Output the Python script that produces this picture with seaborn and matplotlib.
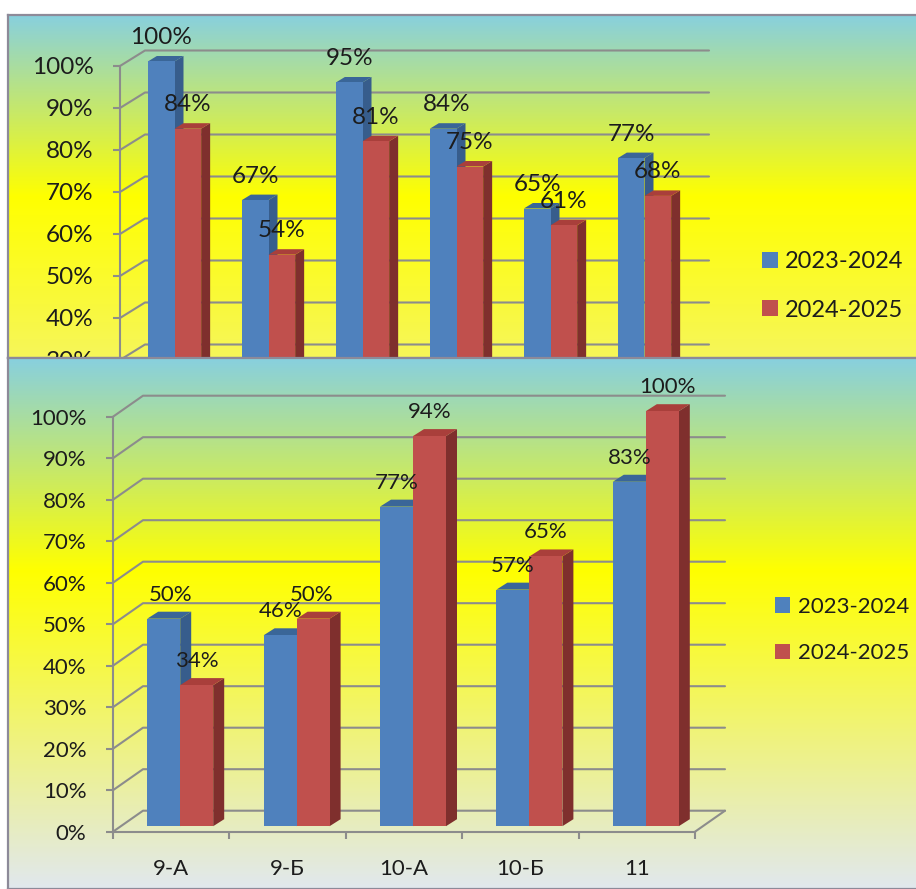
import numpy as np
import pandas as pd
import matplotlib
matplotlib.use("Agg")
import matplotlib.pyplot as plt
from matplotlib.colors import LinearSegmentedColormap
from matplotlib.patches import Polygon
import seaborn as sns

sns.set_theme(style="white")
plt.rcParams["font.family"] = ["Lato", "Open Sans", "DejaVu Sans"]

W, H = 916, 889

years = ["2023-2024", "2024-2025"]

top_groups = ["1", "2", "3", "4", "5", "6"]
top_first = [100, 67, 95, 84, 65, 77]
top_second = [84, 54, 81, 75, 61, 68]

bottom_groups = ["9-А", "9-Б", "10-А", "10-Б", "11"]
bottom_first = [50, 46, 77, 57, 83]
bottom_second = [34, 50, 94, 65, 100]

y_ticks = [0, 10, 20, 30, 40, 50, 60, 70, 80, 90, 100]

GRID = "#8c8c8c"
TEXT = "#1c1c1c"
FRONT = ["#4f81bd", "#c0504d"]
SIDE = ["#375d8c", "#7f2f2d"]
ROOF = ["#3a6698", "#a93f3b"]


def px_axes(fig, x0, y0, x1, y1, zorder):
    ax = fig.add_axes([x0 / W, 1 - y1 / H, (x1 - x0) / W, (y1 - y0) / H])
    ax.set_zorder(zorder)
    return ax


def panel(fig, y0, y1, stops, zorder):
    ax = px_axes(fig, 8, y0, W + 4, y1, zorder)
    cmap = LinearSegmentedColormap.from_list("bg", stops)
    ax.imshow(np.linspace(0, 1, 256).reshape(-1, 1), cmap=cmap, aspect="auto", vmin=0, vmax=1)
    ax.set_xticks([])
    ax.set_yticks([])
    ax.grid(False)
    for name, spine in ax.spines.items():
        spine.set_color("#8d8a99")
        spine.set_linewidth(1.6)
    return ax


def chart(ax, groups, first, second, wall, bar, shift, fontsize, label_fix):
    df = pd.DataFrame({
        "group": groups * 2,
        "year": [years[0]] * len(groups) + [years[1]] * len(groups),
        "value": first + second,
    })
    sns.barplot(data=df, x="group", y="value", hue="year", palette=FRONT,
                hue_order=years, width=0.567, gap=0, saturation=1,
                edgecolor="none", linewidth=0, ax=ax)

    bbox = ax.get_position()
    px_w = bbox.width * W
    px_h = bbox.height * H
    n = len(groups)
    sx = n / px_w
    sy = 100 / px_h

    ax.set_xlim(-0.5, n - 0.5)
    ax.set_ylim(0, 100)
    ax.patch.set_alpha(0)
    ax.set_xlabel("")
    ax.set_ylabel("")

    # walls and floor of the fake 3d box
    wx, wy = wall[0] * sx, wall[1] * sy
    for v in y_ticks:
        ax.plot([-0.5, -0.5 + wx, n - 0.5 + wx], [v, v + wy, v + wy],
                color=GRID, lw=1.5, clip_on=False, zorder=1)
    ax.plot([n - 0.5, n - 0.5 + wx], [0, wy], color=GRID, lw=1.5, clip_on=False, zorder=1)

    # extrude the bars
    ox, oy = shift[0] * sx, shift[1] * sy
    dx, dy = bar[0] * sx, bar[1] * sy
    for s, container in enumerate(ax.containers):
        for p, val, fix in zip(container.patches, container.datavalues, label_fix[s]):
            p.set_x(p.get_x() + ox)
            p.set_y(oy)
            p.set_zorder(3.2 + s)
            p.set_edgecolor("none")
            p.set_linewidth(0)
            p.set_clip_on(False)
            x0 = p.get_x()
            x1 = x0 + p.get_width()
            y0 = oy
            y1 = oy + val
            ax.add_patch(Polygon([(x1, y0), (x1 + dx, y0 + dy), (x1 + dx, y1 + dy), (x1, y1)],
                                 closed=True, fc=SIDE[s], ec="none", zorder=3.1 + s, clip_on=False))
            ax.add_patch(Polygon([(x0, y1), (x0 + dx, y1 + dy), (x1 + dx, y1 + dy), (x1, y1)],
                                 closed=True, fc=ROOF[s], ec="none", zorder=3.1 + s, clip_on=False))
            ax.annotate(f"{val:.0f}%", ((x0 + x1) / 2, y1), xytext=(fix, 24),
                        textcoords="offset pixels", ha="center", va="center",
                        fontsize=fontsize, color=TEXT, zorder=10, annotation_clip=False)

    ax.set_yticks(y_ticks)
    ax.set_yticklabels([f"{v}%" for v in y_ticks], fontsize=fontsize, color=TEXT)
    ax.set_xticks(range(n))
    ax.set_xticks(np.arange(-0.5, n, 1), minor=True)
    ax.tick_params(axis="y", left=True, length=5, width=1.5, color=GRID, pad=14)
    ax.tick_params(axis="x", which="major", length=0, pad=20, labelsize=fontsize, labelcolor=TEXT)
    ax.tick_params(axis="x", which="minor", bottom=True, length=5, width=1.5, color=GRID)
    sns.despine(ax=ax, top=True, right=True)
    for name in ["left", "bottom"]:
        ax.spines[name].set_color(GRID)
        ax.spines[name].set_linewidth(1.5)


fig = plt.figure(figsize=(W / 100, H / 100), dpi=100, facecolor="white")

panel(fig, 15, 358, [(0, "#88d0de"), (0.53, "#ffff00"), (1, "#f6f65a")], 0)
ax_top = px_axes(fig, 120, 66, 684, 486, 1)
chart(ax_top, top_groups, top_first, top_second, wall=(25, 15.5), bar=(9, 5.5), shift=(7.5, 4.5),
      fontsize=17.5, label_fix=[[0, 0, 0, 4, 0, 0], [0, 0, 0, 0, 0, 0]])

panel(fig, 358, 889, [(0, "#88d0de"), (0.40, "#ffff00"), (1, "#e1e8ee")], 2)
ax_bottom = px_axes(fig, 113, 416.7, 695, 831.7, 3)
chart(ax_bottom, bottom_groups, bottom_first, bottom_second, wall=(30, 21), bar=(11, 7), shift=(9, 5.5),
      fontsize=16, label_fix=[[7, 1, 0, 0, 0], [0, -1, 0, 0, 5]])

sns.move_legend(ax_top, "center left", bbox_to_anchor=(762 / W, 1 - 286 / H), bbox_transform=fig.transFigure,
                frameon=False, title=None, fontsize=17, handlelength=0.68, handleheight=0.68,
                handletextpad=0.3, labelspacing=1.15, labelcolor=TEXT, borderpad=0, borderaxespad=0)
sns.move_legend(ax_bottom, "center left", bbox_to_anchor=(775 / W, 1 - 630 / H), bbox_transform=fig.transFigure,
                frameon=False, title=None, fontsize=16, handlelength=0.68, handleheight=0.68,
                handletextpad=0.35, labelspacing=1.2, labelcolor=TEXT, borderpad=0, borderaxespad=0)

fig.savefig("out.png", dpi=100)
